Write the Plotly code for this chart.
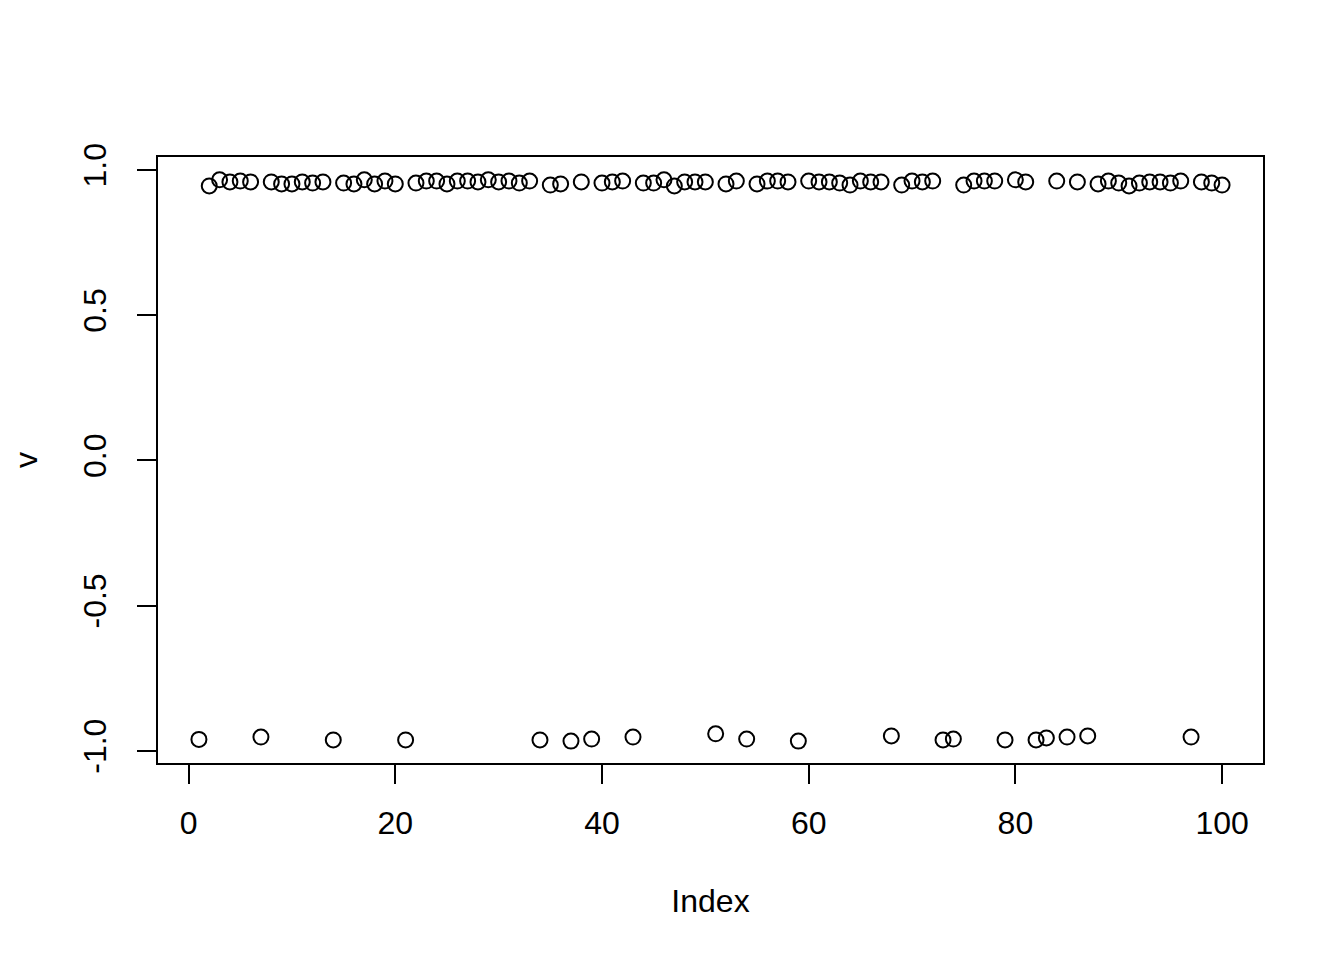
import plotly.graph_objects as go

index = list(range(1, 101))
v = [
    -0.960, 0.945, 0.966, 0.959, 0.962, 0.959, -0.952, 0.959, 0.952, 0.952,
    0.959, 0.955, 0.959, -0.962, 0.955, 0.952, 0.966, 0.952, 0.962, 0.952,
    -0.962, 0.955, 0.962, 0.962, 0.952, 0.962, 0.962, 0.959, 0.966, 0.959,
    0.962, 0.955, 0.962, -0.962, 0.948, 0.952, -0.966, 0.959, -0.959, 0.955,
    0.959, 0.962, -0.952, 0.955, 0.955, 0.966, 0.945, 0.959, 0.959, 0.959,
    -0.941, 0.952, 0.962, -0.959, 0.952, 0.962, 0.962, 0.959, -0.966, 0.962,
    0.959, 0.959, 0.955, 0.948, 0.962, 0.959, 0.959, -0.948, 0.948, 0.962,
    0.959, 0.962, -0.962, -0.959, 0.948, 0.962, 0.962, 0.962, -0.962, 0.966,
    0.959, -0.962, -0.955, 0.962, -0.952, 0.959, -0.948, 0.952, 0.962, 0.955,
    0.945, 0.955, 0.959, 0.959, 0.955, 0.962, -0.952, 0.959, 0.955, 0.948,
]
x_ticks = [0, 20, 40, 60, 80, 100]
y_ticks = [-1.0, -0.5, 0.0, 0.5, 1.0]
y_tick_labels = ["-1.0", "-0.5", "0.0", "0.5", "1.0"]

FONT = "Liberation Sans, Arial, Helvetica, sans-serif"
FS = 32

fig = go.Figure(
    go.Scatter(
        x=index, y=v, mode="markers",
        marker=dict(symbol="circle-open", size=15, color="black",
                    line=dict(width=2, color="black")),
        hoverinfo="x+y",
    )
)

axis_common = dict(
    showgrid=False, zeroline=False,
    showline=True, mirror=True, linecolor="black", linewidth=2,
    ticks="outside", ticklen=19, tickwidth=2, tickcolor="black",
    tickfont=dict(family=FONT, size=FS, color="black"),
)

fig.update_layout(
    width=1344, height=960,
    margin=dict(l=150, r=89, t=149, b=205, pad=0),
    paper_bgcolor="white", plot_bgcolor="white",
    showlegend=False,
    font=dict(family=FONT, size=FS, color="black"),
    xaxis=dict(
        **axis_common,
        range=[-2.96, 103.96],
        tickmode="array", tickvals=x_ticks, ticktext=[str(t) for t in x_ticks],
        ticklabelstandoff=12,
        title=dict(text="Index", font=dict(family=FONT, size=FS, color="black"), standoff=49),
    ),
    yaxis=dict(
        **axis_common,
        range=[-1.0413, 1.0447],
        tickmode="array", tickvals=y_ticks, ticktext=y_tick_labels,
        tickangle=-90,
        ticklabelstandoff=18,
        title=dict(text="v", font=dict(family=FONT, size=FS, color="black"), standoff=32),
    ),
)

fig.write_html("out.html")
